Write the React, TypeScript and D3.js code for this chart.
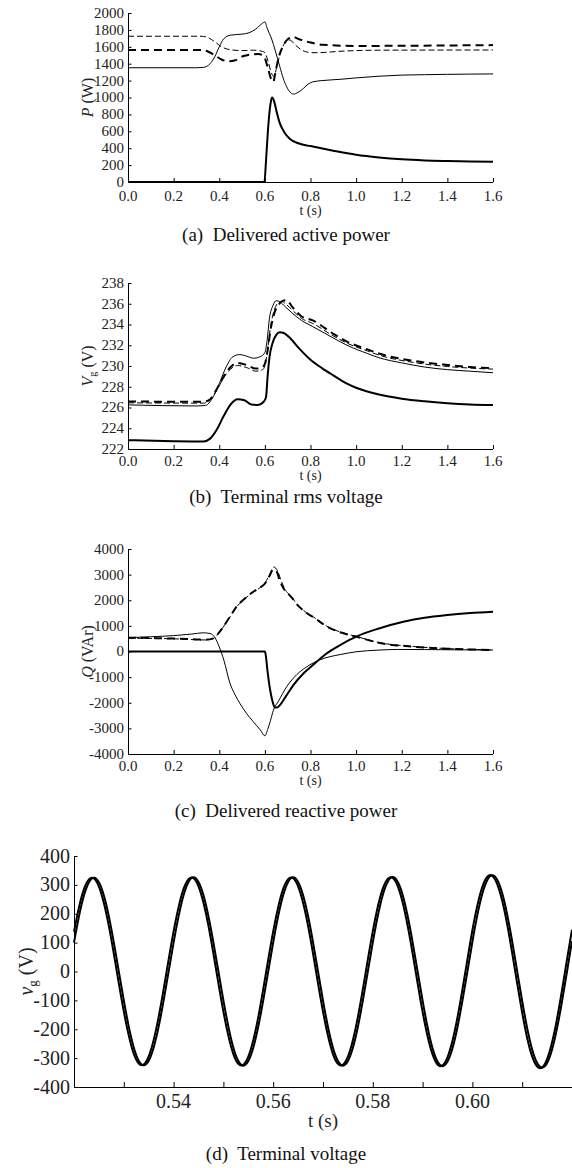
import React from "react";
import * as d3 from "d3";

type Pt = [number, number];

// shared time ticks for panels a-c
const timeTicks = [0, 0.2, 0.4, 0.6, 0.8, 1.0, 1.2, 1.4, 1.6];

// (a) delivered active power P (W)
const pTicks = [0, 200, 400, 600, 800, 1000, 1200, 1400, 1600, 1800, 2000];
const pThinSolid: Pt[] = [
  [0, 1352], [0.3, 1352], [0.33, 1356], [0.36, 1400], [0.38, 1480], [0.4, 1600],
  [0.42, 1695], [0.45, 1738], [0.5, 1750], [0.53, 1765], [0.56, 1810], [0.59, 1880],
  [0.6, 1895], [0.61, 1820], [0.63, 1690], [0.645, 1560], [0.665, 1370], [0.68, 1230],
  [0.695, 1130], [0.71, 1065], [0.725, 1040], [0.745, 1060], [0.77, 1110], [0.79, 1160],
  [0.81, 1185], [0.85, 1200], [0.93, 1215], [1.0, 1232], [1.1, 1252], [1.2, 1265],
  [1.3, 1270], [1.4, 1274], [1.5, 1277], [1.6, 1279],
];
const pThinDash: Pt[] = [
  [0, 1725], [0.32, 1725], [0.35, 1710], [0.38, 1660], [0.41, 1600], [0.45, 1565],
  [0.5, 1555], [0.55, 1560], [0.59, 1545], [0.6, 1530], [0.615, 1420], [0.63, 1280],
  [0.64, 1250], [0.655, 1400], [0.675, 1580], [0.695, 1670], [0.71, 1680], [0.73, 1630],
  [0.76, 1565], [0.79, 1535], [0.82, 1530], [0.95, 1550], [1.1, 1560], [1.6, 1562],
];
const pThickDash: Pt[] = [
  [0, 1562], [0.32, 1562], [0.35, 1545], [0.38, 1500], [0.41, 1450], [0.44, 1428],
  [0.47, 1440], [0.5, 1485], [0.53, 1505], [0.57, 1515], [0.59, 1500], [0.6, 1465],
  [0.615, 1330], [0.63, 1200], [0.637, 1185], [0.645, 1280], [0.66, 1470], [0.68, 1610],
  [0.7, 1690], [0.725, 1715], [0.75, 1690], [0.8, 1650], [0.85, 1625], [1.0, 1610],
  [1.2, 1612], [1.6, 1620],
];
const pThickSolid: Pt[] = [
  [0, 0], [0.598, 0], [0.605, 250], [0.612, 550], [0.62, 820], [0.627, 960],
  [0.632, 1000], [0.64, 960], [0.65, 850], [0.665, 700], [0.685, 590], [0.71, 510],
  [0.75, 455], [0.8, 425], [0.9, 370], [1.0, 322], [1.1, 290], [1.2, 268],
  [1.3, 255], [1.4, 248], [1.5, 243], [1.6, 240],
];

// (b) terminal rms voltage Vg (V)
const vTicks = [222, 224, 226, 228, 230, 232, 234, 236, 238];
const vThinSolid: Pt[] = [
  [0, 226.25], [0.3, 226.15], [0.34, 226.2], [0.37, 226.9], [0.4, 228.3], [0.43, 229.9],
  [0.46, 230.9], [0.49, 231.1], [0.52, 230.95], [0.55, 230.75], [0.58, 230.9], [0.6, 231.3],
  [0.61, 232.5], [0.62, 234.6], [0.635, 235.8], [0.65, 236.3], [0.665, 236.2], [0.69, 235.7],
  [0.72, 235.1], [0.76, 234.4], [0.81, 233.8], [0.9, 232.7], [0.96, 232.0], [1.05, 231.2],
  [1.1, 230.8], [1.2, 230.3], [1.3, 229.9], [1.4, 229.65], [1.5, 229.5], [1.6, 229.35],
];
const vThickDash: Pt[] = [
  [0, 226.58], [0.33, 226.55], [0.36, 226.8], [0.39, 227.8], [0.42, 229.0], [0.45, 229.9],
  [0.48, 230.3], [0.52, 230.1], [0.56, 229.75], [0.59, 229.9], [0.6, 230.2], [0.612, 231.5],
  [0.625, 233.5], [0.64, 235.0], [0.66, 235.9], [0.68, 236.3], [0.695, 236.35], [0.72, 235.7],
  [0.76, 234.8], [0.81, 234.4], [0.9, 233.1], [0.96, 232.35], [1.05, 231.6], [1.1, 231.2],
  [1.25, 230.5], [1.4, 230.1], [1.5, 229.9], [1.6, 229.8],
];
const vThinDash: Pt[] = [
  [0, 226.45], [0.33, 226.42], [0.36, 226.7], [0.39, 227.7], [0.42, 228.9], [0.45, 229.7],
  [0.48, 230.05], [0.52, 229.85], [0.56, 229.5], [0.59, 229.65], [0.6, 230.0], [0.612, 231.6],
  [0.625, 233.8], [0.64, 235.3], [0.66, 236.1], [0.675, 236.2], [0.69, 236.0], [0.72, 235.4],
  [0.76, 234.6], [0.81, 234.1], [0.9, 232.9], [0.96, 232.2], [1.05, 231.45], [1.1, 231.05],
  [1.25, 230.35], [1.4, 229.95], [1.5, 229.8], [1.6, 229.7],
];
const vThickSolid: Pt[] = [
  [0, 222.85], [0.2, 222.75], [0.33, 222.72], [0.36, 223.0], [0.39, 223.9], [0.42, 225.2],
  [0.45, 226.3], [0.48, 226.8], [0.51, 226.7], [0.54, 226.3], [0.57, 226.25], [0.595, 226.55],
  [0.605, 227.0], [0.612, 229.0], [0.62, 230.8], [0.635, 232.3], [0.65, 233.0], [0.665, 233.25],
  [0.68, 233.2], [0.71, 232.7], [0.75, 231.7], [0.8, 230.6], [0.85, 229.8], [0.9, 229.1],
  [0.96, 228.3], [1.0, 227.9], [1.1, 227.25], [1.2, 226.85], [1.3, 226.6], [1.4, 226.42],
  [1.5, 226.3], [1.6, 226.24],
];

// (c) delivered reactive power Q (VAr)
const qTicks = [-4000, -3000, -2000, -1000, 0, 1000, 2000, 3000, 4000];
const qThinSolid: Pt[] = [
  [0, 540], [0.1, 575], [0.2, 620], [0.28, 680], [0.33, 730], [0.36, 700],
  [0.38, 560], [0.4, 180], [0.42, -330], [0.447, -1240], [0.47, -1700], [0.49, -2020],
  [0.52, -2420], [0.549, -2740], [0.58, -3060], [0.6, -3290], [0.612, -3050], [0.625, -2680],
  [0.637, -2300], [0.66, -1930], [0.696, -1370], [0.74, -900], [0.783, -600], [0.84, -330],
  [0.886, -200], [0.93, -120], [1.0, -10], [1.1, 55], [1.18, 80], [1.3, 75],
  [1.45, 65], [1.6, 58],
];
const qThickSolid: Pt[] = [
  [0, 0], [0.6, 0], [0.604, -150], [0.611, -720], [0.623, -1500], [0.634, -1960],
  [0.644, -2190], [0.655, -2180], [0.666, -2090], [0.69, -1780], [0.725, -1310], [0.77, -850],
  [0.812, -520], [0.87, -80], [0.93, 250], [1.0, 580], [1.1, 900], [1.207, 1160],
  [1.3, 1320], [1.4, 1425], [1.5, 1500], [1.6, 1553],
];
const qThickDash: Pt[] = [
  [0, 540], [0.1, 525], [0.2, 505], [0.3, 470], [0.34, 455], [0.374, 510],
  [0.4, 750], [0.418, 970], [0.45, 1400], [0.476, 1750], [0.51, 2050], [0.549, 2330],
  [0.58, 2500], [0.6, 2650], [0.62, 2950], [0.637, 3200], [0.65, 3150], [0.666, 2750],
  [0.69, 2350], [0.71, 2180], [0.75, 1750], [0.783, 1500], [0.812, 1340], [0.871, 980],
  [0.93, 750], [1.0, 580], [1.105, 330], [1.25, 190], [1.4, 110], [1.6, 60],
];
const qThinDash: Pt[] = [
  [0, 520], [0.1, 510], [0.2, 495], [0.3, 460], [0.34, 450], [0.374, 505],
  [0.4, 740], [0.418, 960], [0.45, 1390], [0.476, 1740], [0.51, 2040], [0.549, 2320],
  [0.58, 2500], [0.6, 2660], [0.62, 3000], [0.64, 3300], [0.655, 3150], [0.672, 2750],
  [0.69, 2400], [0.71, 2200], [0.75, 1760], [0.783, 1510], [0.812, 1350], [0.871, 990],
  [0.93, 760], [1.0, 590], [1.105, 340], [1.25, 195], [1.4, 115], [1.6, 62],
];

// (d) terminal voltage vg (V), sampled every 1 ms from 0.520 s
const vgStart = 0.52;
const vgStep = 0.001;
const vgTicks = [-400, -300, -200, -100, 0, 100, 200, 300, 400];
const vgTimeTicks = [0.53, 0.54, 0.55, 0.56, 0.57, 0.58, 0.59, 0.6, 0.61];
const vgTimeLabels = [0.54, 0.56, 0.58, 0.6];
const vgA = [
  138, 222, 285, 319, 322, 294, 237, 157, 61, -41, -138, -222, -285, -319, -322, -294, -237, -157, -61, 41,
  139, 223, 286, 320, 323, 295, 238, 158, 61, -41, -139, -223, -286, -320, -323, -295, -238, -158, -61, 41,
  139, 223, 286, 320, 323, 295, 238, 158, 62, -41, -139, -223, -286, -320, -323, -295, -238, -158, -62, 41,
  140, 224, 287, 321, 324, 296, 239, 158, 62, -41, -140, -224, -287, -322, -325, -297, -240, -159, -62, 42,
  143, 229, 293, 328, 331, 302, 244, 162, 63, -42, -143, -230, -294, -329, -332, -303, -245, -163, -64, 42,
  145,
];
const vgB = [
  100, 191, 263, 309, 325, 309, 263, 191, 100, 0, -100, -191, -263, -309, -325, -309, -263, -191, -100, 0,
  100, 191, 264, 310, 326, 310, 264, 191, 100, 0, -100, -191, -264, -310, -326, -310, -264, -191, -100, 0,
  101, 192, 264, 310, 326, 310, 264, 192, 101, 0, -101, -192, -264, -310, -326, -310, -264, -192, -101, 0,
  101, 192, 265, 311, 327, 311, 265, 192, 101, 0, -101, -193, -266, -312, -328, -312, -266, -193, -101, 0,
  103, 196, 270, 317, 333, 317, 270, 196, 103, 0, -103, -196, -270, -317, -333, -317, -270, -196, -103, 0,
  105,
];

const FONT = "'Liberation Serif', 'Times New Roman', serif";

type LineStyle = { w: number; dash?: string };
const thin: LineStyle = { w: 1 };
const thick: LineStyle = { w: 2 };
const thinDash: LineStyle = { w: 1, dash: "6,3" };
const thickDash: LineStyle = { w: 2, dash: "8,5" };

type Series = { pts: Pt[]; style: LineStyle; curve?: d3.CurveFactory };

type PanelProps = {
  xRange: [number, number];
  yRange: [number, number];
  xDomain: [number, number];
  yDomain: [number, number];
  xTicks: number[];
  xLabels: number[];
  xFmt: (v: number) => string;
  yTicks: number[];
  series: Series[];
  tickFont: number;
  tickLen: number;
  xLabelDy: number;
  tLabelDy: number;
  yLabel: React.ReactNode;
  yLabelX: number;
  yLabelFont: number;
  tFont: number;
  caption: string;
  captionY: number;
};

function Panel(p: PanelProps) {
  const x = d3.scaleLinear().domain(p.xDomain).range(p.xRange);
  const y = d3.scaleLinear().domain(p.yDomain).range(p.yRange);
  const x0 = p.xRange[0];
  const yb = p.yRange[0];
  const yMid = (p.yRange[0] + p.yRange[1]) / 2;
  const xMid = (p.xRange[0] + p.xRange[1]) / 2;
  return (
    <g fontFamily={FONT}>
      {p.series.map((s, i) => {
        const line = d3
          .line<Pt>()
          .x((d) => x(d[0]))
          .y((d) => y(d[1]))
          .curve(s.curve ?? d3.curveMonotoneX);
        return (
          <path
            key={i}
            d={line(s.pts) ?? ""}
            fill="none"
            stroke="#000"
            strokeWidth={s.style.w}
            strokeDasharray={s.style.dash}
            strokeLinejoin="round"
          />
        );
      })}
      <line x1={x0 + 0.5} x2={x0 + 0.5} y1={p.yRange[1]} y2={yb} stroke="#000" />
      <line x1={x0} x2={p.xRange[1]} y1={yb + 0.5} y2={yb + 0.5} stroke="#000" />
      {p.yTicks.map((t) => (
        <g key={"y" + t}>
          <line x1={x0} x2={x0 + 3.5} y1={y(t) + 0.5} y2={y(t) + 0.5} stroke="#000" />
          <text x={x0 - 4} y={y(t)} dy="0.33em" textAnchor="end" fontSize={p.tickFont} fill="#222">
            {t}
          </text>
        </g>
      ))}
      {p.xTicks.map((t) => (
        <line key={"xt" + t} x1={x(t) + 0.5} x2={x(t) + 0.5} y1={yb} y2={yb - p.tickLen} stroke="#000" />
      ))}
      {p.xLabels.map((t) => (
        <text key={"xl" + t} x={x(t)} y={yb + p.xLabelDy} textAnchor="middle" fontSize={p.tickFont} fill="#222">
          {p.xFmt(t)}
        </text>
      ))}
      <text x={xMid} y={yb + p.tLabelDy} textAnchor="middle" fontSize={p.tFont} fill="#222">
        t (s)
      </text>
      <text
        transform={`translate(${p.yLabelX},${yMid}) rotate(-90)`}
        textAnchor="middle"
        fontSize={p.yLabelFont}
        fill="#222"
      >
        {p.yLabel}
      </text>
      <text x={286} y={p.captionY} textAnchor="middle" fontSize={19} fill="#111">
        {p.caption}
      </text>
    </g>
  );
}

export default function App() {
  const fmt1 = d3.format(".1f");
  const fmt2 = d3.format(".2f");
  const vgPtsA: Pt[] = vgA.map((v, i) => [vgStart + i * vgStep, v]);
  const vgPtsB: Pt[] = vgB.map((v, i) => [vgStart + i * vgStep, v]);
  const sub = (s: string) => (
    <>
      <tspan dy="0.3em" fontSize="0.65em">{s}</tspan>
      <tspan dy="-0.2em"> (</tspan>
    </>
  );
  return (
    <svg
      width={572}
      height={1168}
      style={{ position: "absolute", left: 0, top: 0, background: "#fff" }}
    >
      <rect width={572} height={1168} fill="#fff" />
      <Panel
        xRange={[128, 493]}
        yRange={[182, 13]}
        xDomain={[0, 1.6]}
        yDomain={[0, 2000]}
        xTicks={timeTicks}
        xLabels={timeTicks}
        xFmt={fmt1}
        yTicks={pTicks}
        series={[
          { pts: pThinDash, style: thinDash },
          { pts: pThickDash, style: thickDash },
          { pts: pThinSolid, style: thin },
          { pts: pThickSolid, style: thick },
        ]}
        tickFont={15}
        tickLen={4}
        xLabelDy={19}
        tLabelDy={33}
        yLabel={<><tspan fontStyle="italic">P</tspan> (W)</>}
        yLabelX={93}
        yLabelFont={16}
        tFont={14}
        caption={"(a)\u00a0 Delivered active power"}
        captionY={241}
      />
      <Panel
        xRange={[128, 493]}
        yRange={[449, 283]}
        xDomain={[0, 1.6]}
        yDomain={[222, 238]}
        xTicks={timeTicks}
        xLabels={timeTicks}
        xFmt={fmt1}
        yTicks={vTicks}
        series={[
          { pts: vThinDash, style: thinDash },
          { pts: vThickDash, style: thickDash },
          { pts: vThinSolid, style: thin },
          { pts: vThickSolid, style: thick },
        ]}
        tickFont={15}
        tickLen={4}
        xLabelDy={17}
        tLabelDy={31}
        yLabel={<><tspan fontStyle="italic">V</tspan>{sub("g")}V)</>}
        yLabelX={93}
        yLabelFont={16}
        tFont={14}
        caption={"(b)\u00a0 Terminal rms voltage"}
        captionY={503}
      />
      <Panel
        xRange={[128, 493]}
        yRange={[754, 549]}
        xDomain={[0, 1.6]}
        yDomain={[-4000, 4000]}
        xTicks={timeTicks}
        xLabels={timeTicks}
        xFmt={fmt1}
        yTicks={qTicks}
        series={[
          { pts: qThinDash, style: thinDash },
          { pts: qThickDash, style: thickDash },
          { pts: qThinSolid, style: thin },
          { pts: qThickSolid, style: thick },
        ]}
        tickFont={15}
        tickLen={4}
        xLabelDy={17}
        tLabelDy={31}
        yLabel={<><tspan fontStyle="italic">Q</tspan> (VAr)</>}
        yLabelX={93}
        yLabelFont={16}
        tFont={14}
        caption={"(c)\u00a0 Delivered reactive power"}
        captionY={817}
      />
      <Panel
        xRange={[74, 572]}
        yRange={[1087, 856]}
        xDomain={[0.52, 0.62]}
        yDomain={[-400, 400]}
        xTicks={vgTimeTicks}
        xLabels={vgTimeLabels}
        xFmt={fmt2}
        yTicks={vgTicks}
        series={[
          { pts: vgPtsA, style: { w: 2 }, curve: d3.curveNatural },
          { pts: vgPtsB, style: { w: 2 }, curve: d3.curveNatural },
        ]}
        tickFont={20}
        tickLen={5}
        xLabelDy={21}
        tLabelDy={40}
        yLabel={<><tspan fontStyle="italic">v</tspan>{sub("g")}V)</>}
        yLabelX={33}
        yLabelFont={20}
        tFont={19}
        caption={"(d)\u00a0 Terminal voltage"}
        captionY={1160}
      />
    </svg>
  );
}
